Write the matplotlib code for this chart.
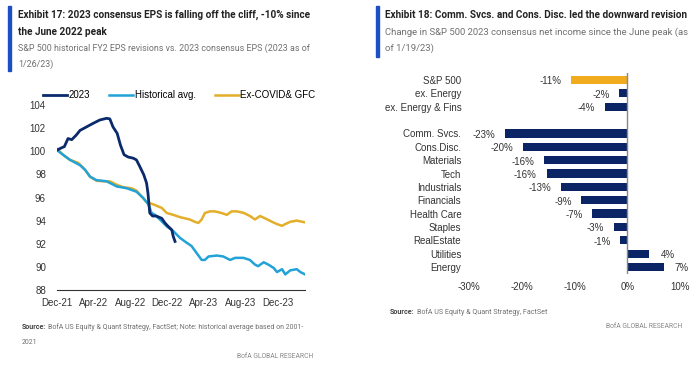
import matplotlib.pyplot as plt
import numpy as np

# ---- data: left chart (months since Dec-21, index level)
m_2023 = [0, 0.5, 0.8, 1.2, 1.6, 2.1, 2.5, 3.2, 3.9, 4.65, 5.4, 5.75, 6.1, 6.55, 6.9, 7.3,
          7.75, 8.3, 8.65, 9.0, 9.45, 9.75, 9.9, 10.1, 10.4, 10.8, 11.4, 11.75, 12.1, 12.5, 12.65, 12.85]
v_2023 = [100.1, 100.3, 100.4, 101.1, 101.0, 101.4, 101.8, 102.1, 102.4, 102.7, 102.85, 102.8, 102.1,
          101.55, 100.55, 99.7, 99.5, 99.4, 99.25, 98.7, 97.96, 97.25, 96.4, 94.66, 94.4, 94.4, 94.2,
          93.8, 93.5, 93.2, 92.65, 92.2]

m_hist = [0, 0.65, 1.4, 2.5, 3.05, 3.6, 4.3, 5.4, 6.5, 7.6, 8.65, 9.4, 9.95, 10.3, 10.65, 11.2,
          11.95, 12.65, 13.4, 14.1, 14.65, 15.2, 15.75, 16.1, 16.5, 17.4, 18.1, 18.85, 19.4, 20.3,
          21.0, 21.55, 21.9, 22.5, 23.0, 23.6, 23.95, 24.5, 24.85, 25.4, 26.1, 26.5, 27.0]
v_hist = [100.1, 99.7, 99.26, 98.8, 98.4, 97.8, 97.5, 97.4, 96.96, 96.8, 96.5, 95.95, 95.4, 94.66,
          94.5, 94.1, 93.5, 93.1, 92.5, 92.1, 91.8, 91.2, 90.6, 90.6, 90.9, 90.98, 90.9, 90.6, 90.78,
          90.78, 90.6, 90.2, 90.06, 90.4, 90.2, 89.9, 89.55, 89.8, 89.35, 89.7, 89.8, 89.55, 89.35]

m_exc = [0, 0.65, 1.4, 2.3, 3.05, 3.6, 4.3, 5.05, 5.75, 6.5, 7.2, 8.1, 8.65, 9.2, 9.75, 10.5,
         11.4, 11.95, 12.65, 13.4, 14.45, 15.0, 15.4, 15.75, 16.1, 16.65, 17.2, 17.9, 18.5, 19.0,
         19.6, 20.35, 21.0, 21.55, 22.1, 22.65, 23.4, 23.95, 24.5, 24.85, 25.4, 26.1, 27.0]
v_exc = [100.2, 99.7, 99.26, 99.0, 98.4, 97.8, 97.45, 97.4, 97.4, 97.1, 96.9, 96.8, 96.6, 96.1,
         95.6, 95.4, 95.1, 94.66, 94.5, 94.3, 94.1, 93.9, 93.8, 94.1, 94.66, 94.8, 94.8, 94.66,
         94.5, 94.8, 94.8, 94.66, 94.4, 94.1, 94.4, 94.2, 93.9, 93.7, 93.55, 93.7, 93.9, 94.0, 93.85]

x_ticks = [0, 4, 8, 12, 16, 20, 24]
x_labels = ["Dec-21", "Apr-22", "Aug-22", "Dec-22", "Apr-23", "Aug-23", "Dec-23"]
y_ticks = [88, 90, 92, 94, 96, 98, 100, 102, 104]

# ---- data: right chart
cats = ["S&P 500", "ex. Energy", "ex. Energy & Fins", "Comm. Svcs.", "Cons.Disc.", "Materials",
        "Tech", "Industrials", "Financials", "Health Care", "Staples", "RealEstate", "Utilities",
        "Energy"]
vals = [-10.6, -1.5, -4.2, -23.1, -19.7, -15.7, -15.3, -12.6, -8.7, -6.6, -2.6, -1.3, 4.2, 6.9]
labels = ["-11%", "-2%", "-4%", "-23%", "-20%", "-16%", "-16%", "-13%", "-9%", "-7%", "-3%",
          "-1%", "4%", "7%"]

NAVY = "#0b2a6b"
LBLUE = "#22a2d6"
GOLD = "#e3ae2a"
BARNAVY = "#0a2466"
BARGOLD = "#f0ab1e"
GREY = "#707070"

plt.rcParams['font.family'] = ['Liberation Sans', 'DejaVu Sans']
fig = plt.figure(figsize=(7, 3.68), dpi=100)
W, H = 700, 368
renderer = fig.canvas.get_renderer()


def fx(px):
    return px / W


def fy(py):
    return 1 - py / H


TF = ['Roboto', 'DejaVu Sans']


def fit_text(x0, x1, y, s, size=8, **kw):
    # place text starting at x0 and shrink/grow it so it ends at x1 (pixels)
    t = fig.text(fx(x0), fy(y), s, family=TF, fontsize=size, va='center', **kw)
    w = t.get_window_extent(renderer).width
    t.set_fontsize(size * (x1 - x0) / w)
    return t


# headers
for x0, y0, y1 in [(8, 6, 71), (376, 6, 57)]:
    fig.patches.append(plt.Rectangle((fx(x0), fy(y1)), fx(3), (y1 - y0) / H,
                                     transform=fig.transFigure, color="#1d4fc4"))
t1 = fit_text(18, 312, 15, "Exhibit 17: 2023 consensus EPS is falling off the cliff, -10% since",
              weight='bold', color="#222222")
fig.text(fx(18), fy(32), "the June 2022 peak", family=TF, weight='bold',
         fontsize=t1.get_fontsize(), va='center', color="#222222")
s1 = fit_text(18, 310, 48, "S&P 500 historical FY2 EPS revisions vs. 2023 consensus EPS (2023 as of",
              color=GREY)
fig.text(fx(18), fy(64), "1/26/23)", family=TF, fontsize=s1.get_fontsize(), va='center', color=GREY)

fit_text(385, 686, 15, "Exhibit 18: Comm. Svcs. and Cons. Disc. led the downward revision",
         weight='bold', color="#222222")
s2 = fit_text(385, 688, 32, "Change in S&P 500 2023 consensus net income since the June peak (as",
              color=GREY)
fig.text(fx(385), fy(48), "of 1/19/23)", family=TF, fontsize=s2.get_fontsize(), va='center',
         color=GREY)

# ---- left chart
ax = fig.add_axes([fx(57), fy(290), fx(248), (290 - 105) / H])
ax.plot(m_exc, v_exc, color=GOLD, lw=1.8, label="Ex-COVID& GFC")
ax.plot(m_hist, v_hist, color=LBLUE, lw=1.8, label="Historical avg.")
ax.plot(m_2023, v_2023, color=NAVY, lw=2.0, label="2023")
ax.set_xlim(0, 27)
ax.set_ylim(88, 104)
ax.set_xticks(x_ticks, x_labels)
ax.set_yticks(y_ticks)
for s in ["top", "right", "left"]:
    ax.spines[s].set_visible(False)
ax.spines["bottom"].set_color("#333333")
ax.tick_params(length=0, labelsize=7, colors="#333333", pad=6)
ax.tick_params(axis='y', pad=8)
h, l = ax.get_legend_handles_labels()
ax.legend(h[::-1], l[::-1], ncol=3, loc='lower left', bbox_to_anchor=(-0.075, 1.0),
          frameon=False, fontsize=7, handlelength=2.4, handletextpad=0.2, columnspacing=2.0,
          borderaxespad=0.1)


def source_line(x0, x1, y, rest):
    # size the whole line to fit, then draw the bold "Source:" and the rest after it
    probe = fit_text(x0, x1, y, "Source: " + rest, size=6)
    size = probe.get_fontsize()
    probe.remove()
    b = fig.text(fx(x0), fy(y), "Source:", family=TF, weight='bold', fontsize=size,
                 va='center', color="#444444")
    bw = b.get_window_extent(renderer).width
    fig.text(fx(x0 + bw + 2), fy(y), rest, family=TF, fontsize=size, va='center', color=GREY)
    return size


src = source_line(22, 305, 327, "BofA US Equity & Quant Strategy, FactSet; Note: historical average based on 2001-")
fig.text(fx(22), fy(342), "2021", family=TF, fontsize=src, va='center', color=GREY)
fit_text(237, 315, 357, "BofA GLOBAL RESEARCH", size=6, color="#888888")

# ---- right chart
pos = np.array([i if i < 3 else i + 1 for i in range(len(cats))])
bx = fig.add_axes([fx(469), fy(273.7), fx(211), 200.4 / H])
colors = [BARGOLD] + [BARNAVY] * (len(cats) - 1)
bx.barh(pos, vals, height=0.62, color=colors)
bx.set_ylim(14.5, -0.5)
bx.set_xlim(-30, 10)
bx.set_yticks(pos, cats)
bx.set_xticks([-30, -20, -10, 0, 10], ["-30%", "-20%", "-10%", "0%", "10%"])
bx.axvline(0, color="#888888", lw=1)
for s in bx.spines.values():
    s.set_visible(False)
bx.tick_params(length=0, labelsize=7, colors="#333333")
bx.tick_params(axis='y', pad=5.5)
bx.tick_params(axis='x', pad=6)
for p, v, t in zip(pos, vals, labels):
    if v < 0:
        bx.annotate(t, (v, p), xytext=(-7, -1), textcoords='offset points', ha='right',
                    va='center', fontsize=7, color="#333333")
    else:
        bx.annotate(t, (v, p), xytext=(8, -1), textcoords='offset points', ha='left',
                    va='center', fontsize=7, color="#333333")

source_line(390, 547, 312, "BofA US Equity & Quant Strategy, FactSet")
fit_text(606, 683, 327, "BofA GLOBAL RESEARCH", size=6, color="#888888")

fig.savefig("out.png", dpi=100, facecolor="white")
